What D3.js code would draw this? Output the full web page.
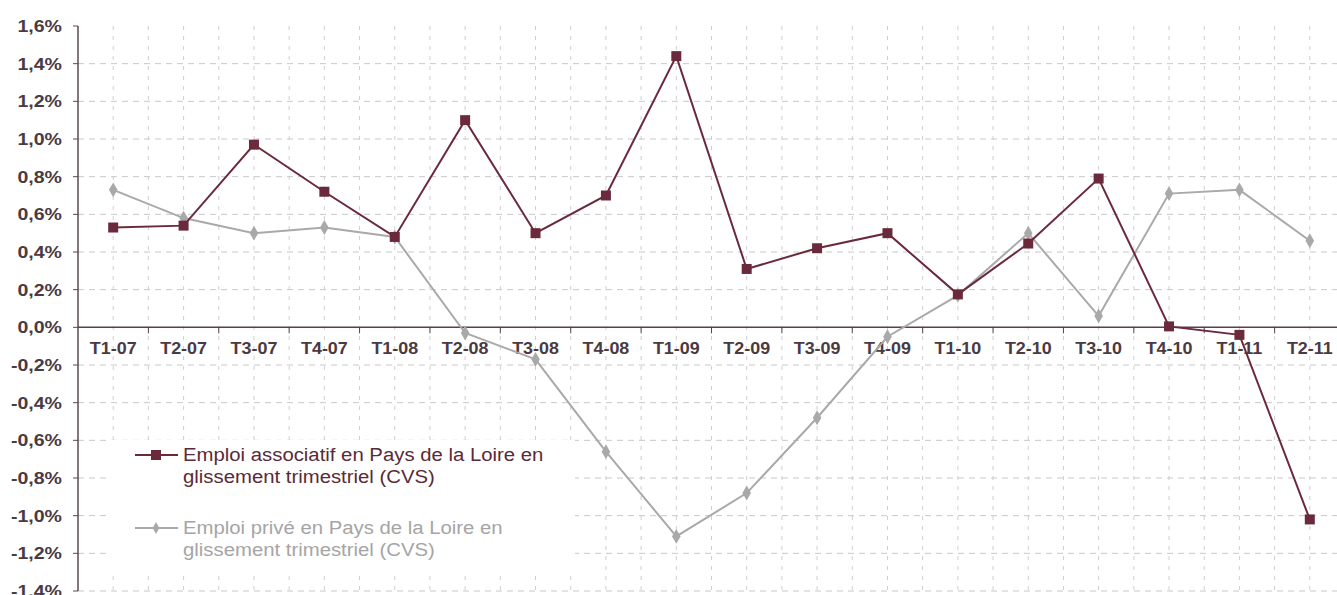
<!DOCTYPE html>
<meta charset="utf-8">
<script src="https://d3js.org/d3.v7.min.js"></script>
<style>
body { margin: 0; background: #fff; }
</style>
<div id="my_dataviz"></div>
<script>

// quarters on the x axis
var quarters = ["T1-07","T2-07","T3-07","T4-07","T1-08","T2-08","T3-08","T4-08","T1-09",
                "T2-09","T3-09","T4-09","T1-10","T2-10","T3-10","T4-10","T1-11","T2-11"];

// emploi associatif (%)
var associatif = [0.53, 0.54, 0.97, 0.72, 0.48, 1.10, 0.50, 0.70, 1.44,
                  0.31, 0.42, 0.50, 0.175, 0.445, 0.79, 0.005, -0.04, -1.02];

// emploi privé (%)
var prive = [0.73, 0.58, 0.50, 0.53, 0.48, -0.03, -0.17, -0.66, -1.11,
             -0.88, -0.48, -0.05, 0.17, 0.50, 0.06, 0.71, 0.73, 0.46];

var yTicks = [-1.4, -1.2, -1.0, -0.8, -0.6, -0.4, -0.2, 0, 0.2, 0.4, 0.6, 0.8, 1.0, 1.2, 1.4, 1.6];

var legendLabels = [
  ["Emploi associatif en Pays de la Loire en", "glissement trimestriel (CVS)"],
  ["Emploi privé en Pays de la Loire en", "glissement trimestriel (CVS)"]
];

var W = 1337, H = 595;
var plotLeft = 78, plotRight = 1345, plotTop = 26, plotBottom = 591;
var maroon = "#6b2a3c", grey = "#a9a9a9", textCol = "#4a3a42";
var font = "Liberation Sans, Arial, sans-serif";

var svg = d3.select("#my_dataviz")
  .append("svg")
    .attr("width", W)
    .attr("height", H);

var x = d3.scaleBand()
  .domain(quarters)
  .range([plotLeft, plotRight])
  .padding(0);

var y = d3.scaleLinear()
  .domain([-1.4, 1.6])
  .range([plotBottom, plotTop]);

var cx = function(d) { return x(d) + x.bandwidth() / 2; };

// vertical grid (boundaries + centres)
var vlines = [];
quarters.forEach(function(q, i) {
  if (i > 0) vlines.push(x(q));
  vlines.push(cx(q));
});
svg.selectAll(".vgrid")
  .data(vlines)
  .enter()
  .append("line")
    .attr("x1", function(d) { return d; })
    .attr("x2", function(d) { return d; })
    .attr("y1", plotTop)
    .attr("y2", H)
    .attr("stroke", "#cfcfcf")
    .attr("stroke-dasharray", "4,6");

// horizontal grid
svg.selectAll(".hgrid")
  .data(yTicks.filter(function(d) { return d !== 0 && d !== 1.6; }))
  .enter()
  .append("line")
    .attr("x1", plotLeft)
    .attr("x2", W)
    .attr("y1", function(d) { return y(d); })
    .attr("y2", function(d) { return y(d); })
    .attr("stroke", "#c8c8c8")
    .attr("stroke-dasharray", "6,5");

// y axis
svg.append("line")
  .attr("x1", plotLeft).attr("x2", plotLeft)
  .attr("y1", plotTop).attr("y2", plotBottom)
  .attr("stroke", "#5a4a52")
  .attr("stroke-width", 1.5);

svg.selectAll(".ytick")
  .data(yTicks)
  .enter()
  .append("line")
    .attr("x1", plotLeft - 5)
    .attr("x2", plotLeft)
    .attr("y1", function(d) { return y(d); })
    .attr("y2", function(d) { return y(d); })
    .attr("stroke", "#5a4a52");

svg.selectAll(".ylab")
  .data(yTicks)
  .enter()
  .append("text")
    .attr("transform", function(d) { return "translate(62," + y(d) + ") scale(1.15,1)"; })
    .attr("dy", "0.36em")
    .attr("text-anchor", "end")
    .attr("font-family", font)
    .attr("font-weight", 700)
    .style("font-size", "17px")
    .attr("fill", textCol)
    .text(function(d) { return d3.format(".1f")(d).replace(".", ",").replace("−", "-") + "%"; });

// zero line
svg.append("line")
  .attr("x1", plotLeft).attr("x2", W)
  .attr("y1", y(0)).attr("y2", y(0))
  .attr("stroke", "#5a4048")
  .attr("stroke-width", 1.5);

// x ticks at boundaries
svg.selectAll(".xtick")
  .data(quarters.slice(1))
  .enter()
  .append("line")
    .attr("x1", function(d) { return x(d); })
    .attr("x2", function(d) { return x(d); })
    .attr("y1", y(0))
    .attr("y2", y(0) + 6)
    .attr("stroke", "#5a4048");

svg.selectAll(".xlab")
  .data(quarters)
  .enter()
  .append("text")
    .attr("transform", function(d) { return "translate(" + cx(d) + "," + (y(0) + 27) + ") scale(1.12,1)"; })
    .attr("text-anchor", "middle")
    .attr("font-family", font)
    .attr("font-weight", 700)
    .style("font-size", "16px")
    .attr("fill", textCol)
    .text(function(d) { return d; });

// lines
var line = function(vals) {
  return d3.line()
    .x(function(d, i) { return cx(quarters[i]); })
    .y(function(d) { return y(d); })(vals);
};

svg.append("path")
  .attr("d", line(prive))
  .attr("fill", "none")
  .attr("stroke", grey)
  .attr("stroke-width", 2);

svg.selectAll(".pmark")
  .data(prive)
  .enter()
  .append("path")
    .attr("d", d3.symbol().type(d3.symbolDiamond).size(64))
    .attr("transform", function(d, i) { return "translate(" + cx(quarters[i]) + "," + y(d) + ")"; })
    .attr("fill", grey);

svg.append("path")
  .attr("d", line(associatif))
  .attr("fill", "none")
  .attr("stroke", maroon)
  .attr("stroke-width", 2);

svg.selectAll(".amark")
  .data(associatif)
  .enter()
  .append("rect")
    .attr("x", function(d, i) { return cx(quarters[i]) - 5; })
    .attr("y", function(d) { return y(d) - 5; })
    .attr("width", 10)
    .attr("height", 10)
    .attr("fill", maroon);

// legend
var legend = svg.append("g");
legend.append("rect")
  .attr("x", 110).attr("y", 440)
  .attr("width", 465).attr("height", 132)
  .attr("fill", "#fff");

var legendColors = [maroon, grey];
legendLabels.forEach(function(lbl, i) {
  var ly = 455 + i * 73;
  legend.append("line")
    .attr("x1", 135).attr("x2", 178)
    .attr("y1", ly).attr("y2", ly)
    .attr("stroke", legendColors[i])
    .attr("stroke-width", 2);
  if (i === 0) {
    legend.append("rect")
      .attr("x", 151).attr("y", ly - 5)
      .attr("width", 10).attr("height", 10)
      .attr("fill", maroon);
  } else {
    legend.append("path")
      .attr("d", d3.symbol().type(d3.symbolDiamond).size(40))
      .attr("transform", "translate(156," + ly + ")")
      .attr("fill", grey);
  }
  lbl.forEach(function(t, j) {
    legend.append("text")
      .attr("transform", "translate(183," + (ly + j * 22) + ") scale(1.13,1)")
      .attr("dy", "0.36em")
      .attr("font-family", font)
      .style("font-size", "18px")
      .attr("fill", i === 0 ? "#5a2a38" : "#a5a5a5")
      .text(t);
  });
});

</script>
